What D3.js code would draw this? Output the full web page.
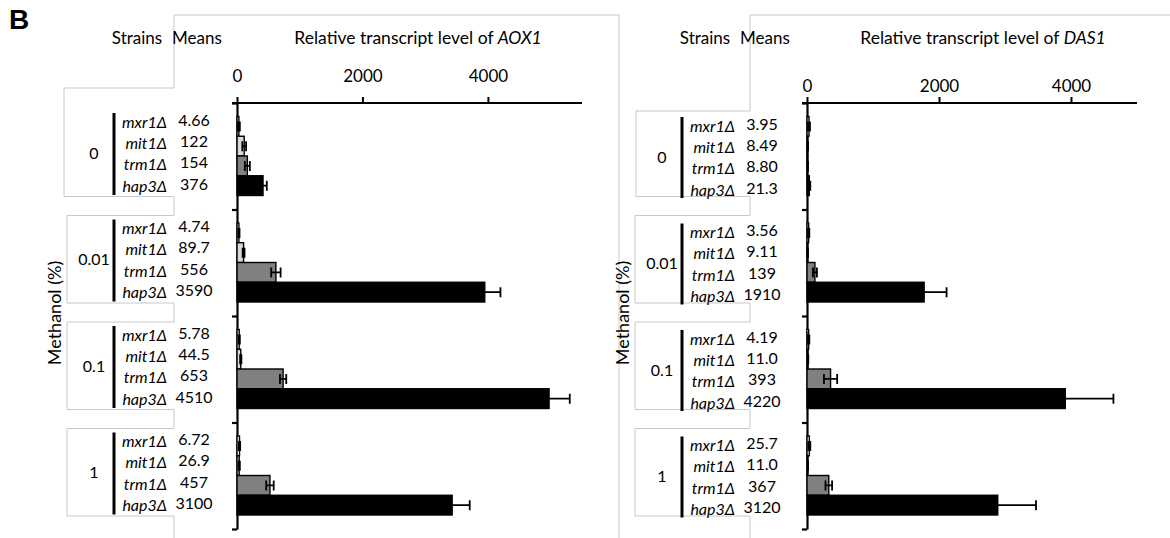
<!DOCTYPE html>
<html>
<head>
<meta charset="utf-8">
<script src="https://cdn.jsdelivr.net/npm/d3@7"></script>
<style>
  body { margin: 0; background: #fff; }
  svg { display: block; font-family: Lato, "Open Sans", sans-serif; }
</style>
</head>
<body>
<svg id="chart" width="1170" height="538"></svg>
<script>
// Methanol concentrations (%) and strains
const groups = ["0", "0.01", "0.1", "1"]
const strains = ["mxr1Δ", "mit1Δ", "trm1Δ", "hap3Δ"]
const xTicks = [0, 2000, 4000]

// AOX1 panel: printed means, bar lengths and error bars
const aox1Means = [
  ["4.66", "122", "154", "376"],
  ["4.74", "89.7", "556", "3590"],
  ["5.78", "44.5", "653", "4510"],
  ["6.72", "26.9", "457", "3100"]
]
const aox1Bars = [
  [30, 115, 165, 415],
  [30, 105, 620, 3950],
  [35, 60, 735, 4975],
  [40, 35, 525, 3430]
]
const aox1Err = [
  [15, 30, 40, 60],
  [10, 15, 75, 250],
  [10, 10, 50, 330],
  [10, 10, 60, 280]
]

// DAS1 panel
const das1Means = [
  ["3.95", "8.49", "8.80", "21.3"],
  ["3.56", "9.11", "139", "1910"],
  ["4.19", "11.0", "393", "4220"],
  ["25.7", "11.0", "367", "3120"]
]
const das1Bars = [
  [30, 10, 10, 35],
  [25, 10, 120, 1775],
  [25, 15, 357, 3913],
  [35, 12, 330, 2890]
]
const das1Err = [
  [15, 5, 5, 15],
  [10, 5, 30, 340],
  [10, 5, 100, 730],
  [15, 5, 50, 580]
]

const strainFill = { "mxr1Δ": "#ffffff", "mit1Δ": "#d9d9d9", "trm1Δ": "#808080", "hap3Δ": "#000000" }
const boxStroke = "#c8c8c8"

const svg = d3.select("#chart")

// panel letter
svg.append("text")
  .attr("x", 9)
  .attr("y", 29)
  .style("font-family", "'Liberation Sans', Arial, sans-serif")
  .style("font-weight", "700")
  .style("font-size", "28px")
  .text("B")

function drawPanel(p) {
  const g = svg.append("g")
  const ox = p.ox
  const top = 103, bottom = 529

  const x = d3.scaleLinear().domain([0, p.xMax]).range([p.x0, p.x1])
  const yGroup = d3.scaleBand().domain(groups).range([top, bottom])
  const yStrain = d3.scaleBand().domain(strains).range([13.5, 92.5])
  const yEdge = d3.scaleLinear().domain([0, groups.length]).range([top, bottom])

  // light grey cell borders around the label blocks
  const boxes = groups.map((grp, i) => {
    const G = yGroup(grp)
    return {
      top: i === 0 ? G + p.firstBoxTop : G + 6,
      bottom: G + 93.5,
      left: ox + (i === 0 ? p.firstBoxLeft : 67)
    }
  })
  const border = g.append("g")
    .attr("fill", "none")
    .attr("stroke", boxStroke)
    .attr("stroke-width", 1)

  boxes.forEach(b => {
    border.append("path")
      .attr("d", `M${p.boxRight},${b.top}H${b.left}V${b.bottom}H${p.boxRight}`)
  })
  // connecting verticals on the right side of the blocks
  const joins = [[15, boxes[0].top]]
  for (let i = 1; i < boxes.length; i++) joins.push([boxes[i - 1].bottom, boxes[i].top])
  joins.push([boxes[boxes.length - 1].bottom, 538])
  joins.forEach(([a, b]) => {
    border.append("line")
      .attr("x1", p.boxRight).attr("x2", p.boxRight)
      .attr("y1", a).attr("y2", b)
  })
  border.append("path").attr("d", p.outline)

  // headers
  g.append("text")
    .attr("x", ox + 137).attr("y", 38).attr("dy", "0.35em")
    .attr("text-anchor", "middle")
    .style("font-size", "17px")
    .text("Strains")
  g.append("text")
    .attr("x", ox + 197).attr("y", 38).attr("dy", "0.35em")
    .attr("text-anchor", "middle")
    .style("font-size", "17px")
    .text("Means")

  const title = g.append("text")
    .attr("x", p.titleX).attr("y", 38).attr("dy", "0.35em")
    .attr("text-anchor", "middle")
    .style("font-size", "17.5px")
  title.append("tspan").text("Relative transcript level of ")
  title.append("tspan").style("font-style", "italic").text(p.gene)

  // y axis title
  g.append("text")
    .attr("transform", `translate(${ox + 55},313) rotate(-90)`)
    .attr("text-anchor", "middle")
    .attr("dy", "0.35em")
    .style("font-size", "18px")
    .text("Methanol (%)")

  // x axis on top
  const xAxis = g.append("g")
    .attr("transform", `translate(0,${top})`)
    .call(d3.axisTop(x).tickValues(xTicks).tickFormat(d3.format("d"))
      .tickSize(6).tickSizeOuter(0).tickPadding(p.tickPad))
  xAxis.select(".domain").remove()
  xAxis.selectAll("line").attr("stroke", "#000").attr("stroke-width", 2)
  xAxis.selectAll("text")
    .style("font-family", "Lato, 'Open Sans', sans-serif")
    .style("font-size", "17px")
    .attr("fill", "#000")
  xAxis.append("line")
    .attr("x1", p.x0 - 5).attr("x2", p.x1)
    .attr("stroke", "#000").attr("stroke-width", 2.2)

  // y axis with ticks between the concentration groups
  const yAxis = g.append("g")
    .attr("transform", `translate(${p.x0},0)`)
    .call(d3.axisLeft(yEdge).ticks(groups.length).tickSize(5).tickSizeOuter(0).tickFormat(""))
  yAxis.selectAll("path, line").attr("stroke", "#000").attr("stroke-width", 2.2)

  groups.forEach((grp, gi) => {
    const G = yGroup(grp)

    // group label and bracket line
    g.append("text")
      .attr("x", ox + 94).attr("y", G + p.groupLabelOff).attr("dy", "0.35em")
      .attr("text-anchor", "middle")
      .style("font-size", "16px")
      .text(grp)
    g.append("line")
      .attr("x1", ox + 114).attr("x2", ox + 114)
      .attr("y1", G + p.lineTop).attr("y2", G + p.lineBot)
      .attr("stroke", "#000").attr("stroke-width", 3)

    strains.forEach((s, si) => {
      const rowY = G + p.rowOff + si * 21.3
      g.append("text")
        .attr("x", ox + 167).attr("y", rowY).attr("dy", "0.35em")
        .attr("text-anchor", "end")
        .style("font-size", "16px")
        .style("font-style", "italic")
        .text(s)
      g.append("text")
        .attr("x", ox + 194).attr("y", rowY - 2).attr("dy", "0.35em")
        .attr("text-anchor", "middle")
        .style("font-size", "16px")
        .text(p.means[gi][si])
    })

    const rows = strains.map((s, si) => ({ s, v: p.bars[gi][si], e: p.err[gi][si] }))
    const bars = g.append("g").selectAll("g")
      .data(rows)
      .enter()
      .append("g")
      .attr("transform", d => `translate(0,${G + yStrain(d.s)})`)

    bars.append("rect")
      .attr("x", x(0))
      .attr("width", d => x(d.v) - x(0))
      .attr("height", yStrain.bandwidth())
      .attr("fill", d => strainFill[d.s])
      .attr("stroke", "#000")
      .attr("stroke-width", 1.4)

    const mid = yStrain.bandwidth() / 2
    bars.append("path")
      .attr("fill", "none")
      .attr("stroke", "#000")
      .attr("stroke-width", 1.8)
      .attr("d", d => {
        const a = x(Math.max(0, d.v - d.e)), b = x(d.v + d.e)
        return `M${a},${mid}H${b}M${a},${mid - 5}V${mid + 5}M${b},${mid - 5}V${mid + 5}`
      })
  })
}

drawPanel({
  ox: 0, gene: "AOX1", xMax: 5500, x0: 237, x1: 582,
  means: aox1Means, bars: aox1Bars, err: aox1Err,
  tickPad: 15, titleX: 418, boxRight: 174, firstBoxTop: -15, firstBoxLeft: 64,
  outline: "M174,15H619V538",
  rowOff: 19, groupLabelOff: 50, lineTop: 10, lineBot: 92
})

drawPanel({
  ox: 568, gene: "DAS1", xMax: 5000, x0: 807, x1: 1137,
  means: das1Means, bars: das1Bars, err: das1Err,
  tickPad: 5, titleX: 983, boxRight: 750, firstBoxTop: 8, firstBoxLeft: 68,
  outline: "M750,15H1170",
  rowOff: 23, groupLabelOff: 54, lineTop: 14, lineBot: 95
})
</script>
</body>
</html>
